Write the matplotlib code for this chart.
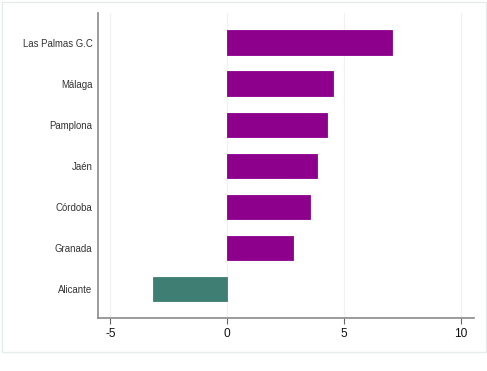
import matplotlib
matplotlib.use("Agg")
import matplotlib.pyplot as plt
from matplotlib.patches import Rectangle

cities = ["Las Palmas G.C", "Málaga", "Pamplona", "Jaén", "Córdoba", "Granada", "Alicante"]
values = [7.06, 4.54, 4.29, 3.83, 3.56, 2.83, -3.16]
xticks = [-5, 0, 5, 10]

purple = "#8C008C"
teal = "#3F7F73"

plt.rcParams['font.family'] = ['Liberation Sans', 'DejaVu Sans']

W, H = 487, 371
fig = plt.figure(figsize=(W / 100, H / 100), dpi=100)
fig.patch.set_facecolor("white")

# faint outer graph-region frame
fig.patches.append(Rectangle((2 / W, 1 - 352 / H), 484 / W, 350 / H,
                             transform=fig.transFigure, fill=False,
                             edgecolor="#E6ECEC", linewidth=1.0))

ax = fig.add_axes([98 / W, 1 - 318 / H, (474 - 98) / W, (318 - 13) / H])
n = len(cities)
ypos = [n - 1 - i for i in range(n)]
colors = [teal if v < 0 else purple for v in values]
ax.barh(ypos, values, height=0.59, color=colors, edgecolor=colors,
        linewidth=0.6, zorder=3)

ax.set_xlim(-5.53, 10.56)
ax.set_ylim(-0.71, n - 1 + 0.72)
ax.set_xticks(xticks)
ax.set_xticklabels([str(t) for t in xticks], fontsize=8.6, color="#111111")
ax.set_yticks(ypos)
ax.set_yticklabels(cities, fontsize=6.9, color="#333333")
ax.tick_params(axis="y", length=0, pad=4)
ax.tick_params(axis="x", length=4, width=0.8, color="#666666", pad=3)

for t in xticks:
    ax.axvline(t, color="#EEF2F2", linewidth=0.9, zorder=1)

for s in ["top", "right"]:
    ax.spines[s].set_visible(False)
for s in ["left", "bottom"]:
    ax.spines[s].set_color("#8A8A8A")
    ax.spines[s].set_linewidth(1.2)

fig.savefig("out.png", dpi=100)
